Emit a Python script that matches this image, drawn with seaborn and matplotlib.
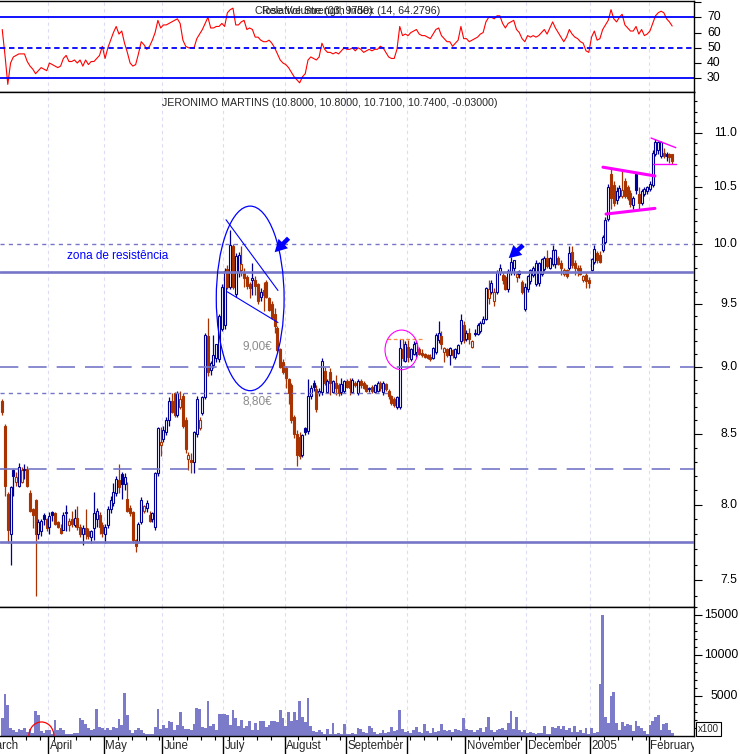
import numpy as np
import pandas as pd
import seaborn as sns
import matplotlib
matplotlib.use("Agg")
import matplotlib.pyplot as plt
from matplotlib.patches import Ellipse
from matplotlib.transforms import blended_transform_factory

sns.set_style("white")
plt.rcParams['font.family'] = ['Liberation Sans', 'DejaVu Sans']

# ---- dados (um valor por sessão, 9 Mar 2004 -> 11 Fev 2005) ----
opens = [8.74, 8.56, 8.07, 7.80, 8.24, 8.16, 8.13, 8.16, 8.24, 8.25,
         8.08, 7.97, 8.03, 7.80, 7.82, 7.93, 7.90, 7.85, 7.95, 7.94,
         7.88, 7.84, 7.83, 7.94, 7.86, 7.90, 7.86, 7.91, 7.85, 7.80,
         7.84, 7.82, 7.78, 7.84, 7.90, 7.93, 7.86, 7.80, 7.86, 7.97,
         8.01, 8.08, 8.17, 8.21, 8.14, 8.04, 7.98, 7.95, 7.76, 7.75,
         7.88, 7.96, 7.98, 7.93, 7.90, 7.85, 8.22, 8.42, 8.46, 8.51,
         8.60, 8.74, 8.80, 8.64, 8.70, 8.78, 8.60, 8.32, 8.31, 8.30,
         8.50, 8.54, 8.65, 8.77, 9.24, 8.98, 9.02, 9.07, 9.06, 9.30,
         9.33, 9.79, 9.64, 9.98, 9.58, 9.76, 9.78, 9.76, 9.72, 9.66,
         9.70, 9.70, 9.66, 9.56, 9.61, 9.68, 9.55, 9.50, 9.42, 9.31,
         9.14, 9.04, 8.99, 8.91, 8.86, 8.62, 8.50, 8.48, 8.35, 8.54,
         8.52, 8.78, 8.88, 8.83, 8.80, 8.81, 8.97, 8.81, 8.96, 8.81,
         8.88, 8.86, 8.81, 8.82, 8.89, 8.89, 8.81, 8.88, 8.80, 8.89,
         8.88, 8.86, 8.83, 8.85, 8.81, 8.82, 8.88, 8.81, 8.87, 8.82,
         8.78, 8.76, 8.70, 8.70, 9.14, 9.05, 9.16, 9.06, 9.10, 9.12,
         9.14, 9.11, 9.10, 9.09, 9.08, 9.07, 9.12, 9.21, 9.24, 9.12,
         9.14, 9.09, 9.13, 9.08, 9.11, 9.20, 9.33, 9.22, 9.27, 9.16,
         9.27, 9.26, 9.28, 9.35, 9.38, 9.55, 9.60, 9.52, 9.60, 9.76,
         9.74, 9.72, 9.62, 9.76, 9.80, 9.72, 9.75, 9.68, 9.46, 9.62,
         9.69, 9.74, 9.66, 9.67, 9.75, 9.79, 9.88, 9.80, 9.83, 9.83,
         9.88, 9.84, 9.75, 9.78, 9.80, 9.93, 9.84, 9.80, 9.80, 9.70,
         9.74, 9.70, 9.78, 9.85, 9.92, 9.91, 9.95, 10.02, 10.22, 10.62,
         10.52, 10.38, 10.42, 10.42, 10.55, 10.50, 10.45, 10.34, 10.62, 10.44,
         10.36, 10.44, 10.46, 10.48, 10.52, 10.80, 10.84, 10.78, 10.81, 10.80,
         10.80, 10.80]
highs = [8.76, 8.57, 8.09, 8.13, 8.25, 8.23, 8.29, 8.26, 8.28, 8.27,
         8.10, 7.98, 8.04, 7.90, 7.90, 7.94, 7.91, 7.95, 7.96, 7.95,
         7.89, 7.87, 7.95, 8.00, 7.91, 7.96, 7.97, 7.99, 7.87, 7.86,
         7.97, 7.84, 7.83, 8.09, 7.98, 7.95, 7.88, 7.87, 7.99, 8.06,
         8.15, 8.20, 8.28, 8.23, 8.22, 8.16, 8.00, 7.96, 7.77, 7.88,
         8.05, 8.00, 8.03, 7.96, 7.95, 8.23, 8.55, 8.55, 8.56, 8.62,
         8.77, 8.80, 8.81, 8.82, 8.82, 8.80, 8.62, 8.37, 8.36, 8.52,
         8.78, 8.62, 8.78, 9.27, 9.39, 9.05, 9.25, 9.18, 9.42, 9.66,
         9.80, 9.82, 10.12, 10.00, 9.92, 9.93, 9.98, 9.80, 9.74, 9.68,
         9.84, 9.73, 9.67, 9.63, 9.68, 9.70, 9.56, 9.52, 9.47, 9.32,
         9.15, 9.06, 9.01, 8.92, 8.88, 8.64, 8.53, 8.51, 8.50, 8.55,
         8.91, 8.86, 8.90, 8.86, 8.84, 9.07, 9.00, 8.91, 8.99, 8.90,
         8.94, 8.88, 8.92, 8.90, 8.91, 8.92, 8.92, 8.89, 8.91, 8.91,
         8.89, 8.87, 8.85, 8.86, 8.87, 8.89, 8.89, 8.89, 8.88, 8.83,
         8.79, 8.77, 8.78, 9.22, 9.22, 9.20, 9.21, 9.15, 9.20, 9.20,
         9.16, 9.14, 9.11, 9.10, 9.10, 9.16, 9.27, 9.36, 9.28, 9.16,
         9.15, 9.16, 9.14, 9.15, 9.18, 9.42, 9.36, 9.29, 9.31, 9.21,
         9.30, 9.35, 9.36, 9.40, 9.64, 9.70, 9.70, 9.63, 9.78, 9.83,
         9.76, 9.74, 9.79, 9.89, 9.86, 9.77, 9.78, 9.70, 9.67, 9.74,
         9.79, 9.81, 9.86, 9.85, 9.88, 9.90, 9.95, 9.89, 9.99, 9.96,
         9.90, 9.86, 9.80, 9.79, 9.98, 9.98, 9.86, 9.82, 9.82, 9.74,
         9.76, 9.72, 9.88, 9.99, 9.94, 9.94, 10.08, 10.23, 10.53, 10.68,
         10.55, 10.50, 10.52, 10.66, 10.58, 10.52, 10.47, 10.42, 10.64, 10.50,
         10.48, 10.50, 10.51, 10.55, 10.84, 10.94, 10.92, 10.92, 10.86, 10.82,
         10.81, 10.80]
lows = [8.64, 8.06, 7.74, 7.60, 8.06, 8.13, 8.12, 8.15, 8.18, 8.12,
        7.95, 7.84, 7.40, 7.77, 7.79, 7.86, 7.82, 7.80, 7.89, 7.86,
        7.84, 7.80, 7.83, 7.82, 7.82, 7.85, 7.85, 7.83, 7.78, 7.73,
        7.77, 7.77, 7.74, 7.76, 7.85, 7.80, 7.78, 7.74, 7.84, 7.94,
        7.99, 8.06, 8.08, 8.04, 8.10, 7.95, 7.92, 7.74, 7.68, 7.74,
        7.87, 7.94, 7.95, 7.88, 7.88, 7.83, 8.20, 8.34, 8.44, 8.49,
        8.56, 8.65, 8.62, 8.62, 8.68, 8.54, 8.36, 8.24, 8.22, 8.22,
        8.48, 8.53, 8.64, 8.76, 8.93, 8.94, 8.99, 9.04, 9.04, 9.28,
        9.30, 9.62, 9.62, 9.62, 9.56, 9.72, 9.73, 9.64, 9.62, 9.55,
        9.57, 9.57, 9.50, 9.52, 9.44, 9.55, 9.44, 9.38, 9.27, 9.12,
        8.99, 8.95, 8.84, 8.72, 8.58, 8.47, 8.27, 8.32, 8.33, 8.49,
        8.50, 8.76, 8.82, 8.66, 8.78, 8.79, 8.86, 8.80, 8.79, 8.80,
        8.79, 8.78, 8.79, 8.80, 8.84, 8.79, 8.80, 8.85, 8.79, 8.84,
        8.83, 8.81, 8.81, 8.80, 8.80, 8.81, 8.82, 8.79, 8.82, 8.76,
        8.71, 8.70, 8.68, 8.68, 9.05, 9.04, 9.04, 9.05, 9.09, 9.08,
        9.09, 9.08, 9.07, 9.06, 9.05, 9.06, 9.10, 9.19, 9.14, 9.04,
        9.08, 9.02, 9.07, 9.06, 9.10, 9.18, 9.19, 9.20, 9.18, 9.15,
        9.24, 9.25, 9.27, 9.34, 9.37, 9.50, 9.58, 9.48, 9.58, 9.74,
        9.66, 9.61, 9.60, 9.74, 9.74, 9.68, 9.71, 9.58, 9.44, 9.60,
        9.66, 9.72, 9.65, 9.65, 9.73, 9.77, 9.80, 9.79, 9.81, 9.80,
        9.82, 9.74, 9.73, 9.71, 9.78, 9.80, 9.74, 9.73, 9.74, 9.68,
        9.63, 9.63, 9.77, 9.83, 9.84, 9.84, 9.93, 10.00, 10.20, 10.30,
        10.33, 10.35, 10.40, 10.40, 10.40, 10.38, 10.32, 10.30, 10.44, 10.30,
        10.34, 10.42, 10.44, 10.46, 10.50, 10.78, 10.80, 10.76, 10.76, 10.74,
        10.72, 10.71]
closes = [8.66, 8.13, 7.83, 8.12, 8.20, 8.19, 8.26, 8.24, 8.25, 8.13,
          7.96, 7.93, 7.80, 7.88, 7.89, 7.90, 7.84, 7.92, 7.93, 7.87,
          7.85, 7.81, 7.93, 7.95, 7.89, 7.87, 7.91, 7.85, 7.80, 7.84,
          7.80, 7.79, 7.82, 7.94, 7.96, 7.85, 7.81, 7.85, 7.97, 8.03,
          8.09, 8.18, 8.12, 8.14, 8.19, 7.96, 7.94, 7.76, 7.72, 7.87,
          8.03, 7.99, 8.01, 7.89, 7.94, 8.22, 8.54, 8.44, 8.53, 8.60,
          8.74, 8.66, 8.64, 8.80, 8.76, 8.56, 8.39, 8.35, 8.30, 8.51,
          8.76, 8.60, 8.77, 9.25, 8.96, 9.03, 9.09, 9.18, 9.40, 9.64,
          9.77, 9.64, 9.99, 9.64, 9.90, 9.91, 9.83, 9.71, 9.65, 9.63,
          9.71, 9.65, 9.52, 9.60, 9.57, 9.56, 9.45, 9.39, 9.32, 9.13,
          9.00, 8.96, 8.92, 8.80, 8.60, 8.50, 8.35, 8.34, 8.49, 8.51,
          8.78, 8.84, 8.85, 8.68, 8.82, 9.05, 8.88, 8.89, 8.88, 8.89,
          8.84, 8.80, 8.87, 8.89, 8.85, 8.84, 8.90, 8.86, 8.89, 8.86,
          8.84, 8.82, 8.84, 8.82, 8.86, 8.88, 8.84, 8.88, 8.83, 8.78,
          8.73, 8.71, 8.77, 9.15, 9.07, 9.18, 9.08, 9.14, 9.18, 9.19,
          9.10, 9.09, 9.08, 9.07, 9.06, 9.15, 9.25, 9.27, 9.18, 9.15,
          9.09, 9.15, 9.09, 9.14, 9.17, 9.37, 9.21, 9.27, 9.22, 9.20,
          9.26, 9.33, 9.35, 9.38, 9.63, 9.62, 9.67, 9.60, 9.76, 9.80,
          9.70, 9.62, 9.77, 9.85, 9.86, 9.75, 9.77, 9.60, 9.64, 9.73,
          9.78, 9.80, 9.84, 9.84, 9.87, 9.88, 9.81, 9.88, 9.95, 9.95,
          9.83, 9.80, 9.78, 9.73, 9.92, 9.82, 9.80, 9.78, 9.75, 9.73,
          9.69, 9.67, 9.87, 9.96, 9.86, 9.85, 10.06, 10.21, 10.50, 10.40,
          10.36, 10.46, 10.49, 10.47, 10.42, 10.40, 10.35, 10.40, 10.47, 10.36,
          10.46, 10.48, 10.50, 10.53, 10.81, 10.91, 10.91, 10.91, 10.78, 10.78,
          10.77, 10.74]
volumes = [2200, 5250, 3900, 950, 750, 550, 850, 750, 950, 550,
           850, 400, 3100, 2600, 650, 350, 750, 700, 300, 2000,
           750, 1000, 700, 250, 300, 300, 350, 350, 2250, 2000,
           1550, 950, 750, 900, 3300, 1150, 950, 750, 950, 700,
           1150, 1050, 2100, 1400, 5300, 2600, 700, 350, 750, 1000,
           800, 350, 250, 250, 200, 1100, 3350, 900, 1350, 1000,
           1800, 1700, 750, 1350, 3000, 1250, 900, 900, 700, 1500,
           3500, 3300, 1100, 950, 4300, 1200, 1500, 800, 2700, 2750,
           2700, 2600, 1400, 3200, 2200, 1300, 2000, 1000, 1300, 1900,
           700, 1600, 800, 1800, 1900, 1100, 1400, 1800, 1900, 1700,
           3200, 2200, 1200, 3000, 1900, 3000, 2000, 4400, 2300, 1700,
           4750, 1200, 600, 550, 700, 550, 250, 900, 300, 1600,
           300, 350, 250, 1500, 200, 300, 400, 250, 950, 850,
           500, 350, 1200, 1000, 500, 300, 350, 800, 400, 500,
           1100, 600, 700, 3200, 900, 500, 650, 400, 800, 1100,
           500, 350, 1500, 600, 400, 1000, 500, 600, 1500, 800,
           600, 800, 500, 900, 700, 600, 2200, 900, 700, 700,
           550, 800, 1000, 500, 1100, 2300, 800, 500, 700, 900,
           1000, 700, 1600, 3100, 900, 2300, 700, 500, 700, 400,
           450, 350, 250, 400, 350, 1300, 200, 300, 1100, 1000,
           1300, 900, 1300, 700, 1000, 500, 1200, 500, 800, 400,
           1000, 300, 1000, 400, 500, 6400, 15000, 2300, 1600, 5000,
           5500, 1600, 800, 1700, 1200, 1500, 1400, 600, 1800, 1200,
           1000, 600, 300, 1400, 1900, 2300, 2600, 800, 1500, 1600,
           700, 400]
rsi = [62, 45, 26, 40, 44, 45, 46, 46, 46, 41,
       38, 36, 33, 35, 37, 36, 35, 40, 39, 38,
       37, 38, 43, 45, 41, 41, 42, 40, 42, 38,
       42, 39, 41, 41, 43, 45, 51, 43, 50, 55,
       60, 64, 59, 61, 53, 47, 40, 38, 39, 46,
       54, 52, 49, 51, 55, 60, 68, 63, 65, 65,
       66, 67, 68, 69, 66, 55, 51, 50, 50, 50,
       56, 59, 62, 66, 70, 63, 63, 64, 64, 66,
       64, 73, 75, 76, 65, 65, 67, 68, 62, 63,
       62, 57, 57, 55, 54, 54, 55, 53, 50, 46,
       42, 40, 39, 37, 34, 31, 29, 27, 31, 33,
       42, 44, 43, 42, 44, 53, 49, 47, 47, 46,
       47, 46, 48, 50, 49, 49, 50, 48, 50, 49,
       47, 48, 49, 48, 49, 49, 51, 50, 47, 44,
       43, 43, 49, 64, 58, 59, 58, 60, 61, 62,
       59, 58, 58, 57, 56, 59, 62, 63, 58, 56,
       54, 54, 51, 53, 55, 64, 56, 56, 54, 55,
       56, 57, 59, 60, 67, 70, 70, 69, 71, 71,
       66, 63, 66, 67, 68, 62, 60, 56, 54, 58,
       57, 58, 57, 58, 60, 62, 59, 63, 67, 63,
       60, 57, 54, 57, 62, 59, 57, 56, 54, 53,
       48, 47, 57, 61, 55, 56, 62, 65, 68, 75,
       69, 67, 70, 72, 65, 63, 61, 61, 64, 59,
       62, 58, 59, 61, 66, 71, 73, 74, 73, 69,
       67, 64.28]

price_ticks = [7.5, 8.0, 8.5, 9.0, 9.5, 10.0, 10.5, 11.0]
rsi_ticks = [30, 40, 50, 60, 70]
vol_ticks = [5000, 10000, 15000]
month_names = ['March', 'April', 'May', 'June', 'July', 'August', 'September',
               '', 'November', 'December', '2005', 'February']

# ---- datas / posições ----
dates = pd.bdate_range('2004-03-09', '2005-02-11')
dates = dates.drop(pd.to_datetime(['2004-04-09', '2004-04-12']))
n = len(closes)
dates = dates[:n]
df = pd.DataFrame({'x': np.arange(n), 'open': opens, 'high': highs,
                   'low': lows, 'close': closes, 'volume': volumes, 'rsi': rsi})
prev = df['close'].shift(1).fillna(df['open'])

BLUE, RED = '#000096', '#a83200'
LINE = '#7676c8'
df['col'] = np.where(df['close'] >= prev, BLUE, RED)
df['face'] = np.where(df['close'] < df['open'], df['col'], 'white')

month_pos = [-float(np.busday_count('2004-03-01', '2004-03-09'))]
for i in range(1, n):
    if dates[i].month != dates[i - 1].month:
        month_pos.append(float(i))
month_pos = np.array(month_pos) - 0.45
mondays = df['x'][dates.weekday == 0] - 0.45

W, H = 740, 754
def box(x0, y0, x1, y1):
    return [x0 / W, 1 - y1 / H, (x1 - x0) / W, (y1 - y0) / H]

fig = plt.figure(figsize=(W / 100, H / 100), dpi=100)
ax_r = fig.add_axes(box(0, 1, 694, 92))
ax_p = fig.add_axes(box(0, 92, 694, 607))
ax_v = fig.add_axes(box(0, 607, 694, 736))
ax_d = fig.add_axes(box(0, 736, 694, 754))

XL = (-0.8, 248.85)
for ax in (ax_r, ax_p, ax_v, ax_d):
    ax.set_xlim(*XL)
    ax.set_facecolor('white')
for ax in (ax_r, ax_p, ax_v):
    ax.spines['left'].set_visible(False)
    for s in ('top', 'bottom', 'right'):
        ax.spines[s].set_color('black')
        ax.spines[s].set_linewidth(1.0)
    ax.set_xticks([])
    ax.yaxis.tick_right()
    ax.tick_params(axis='y', which='both', right=True, left=False, direction='out',
                   color='black', width=0.8, labelright=False)
    for m in month_pos[1:]:
        ax.axvline(m, color='#dcdcf4', lw=0.8, ls=(0, (3, 3)), zorder=0)

lab_kw = dict(fontsize=8.8, color='black', va='center')

# ---- RSI ----
sns.lineplot(x=df['x'], y=df['rsi'], ax=ax_r, color='red', lw=0.8, legend=False)
ax_r.set_ylim(21, 80.7)
ax_r.axhline(70, color='#0000ff', lw=1.3)
ax_r.axhline(30, color='#0000ff', lw=1.3)
ax_r.axhline(50, color='#0000ff', lw=1.3, ls=(0, (3, 2)))
ax_r.set_yticks(rsi_ticks + [80])
ax_r.tick_params(axis='y', length=5)
ax_r.set_xlabel('')
ax_r.set_ylabel('')
tr = blended_transform_factory(ax_r.transAxes, ax_r.transData)
for t in rsi_ticks:
    ax_r.text(707 / 694, t, str(t), transform=tr, ha='left', clip_on=False, **lab_kw)
# no original os dois títulos do painel aparecem sobrepostos
ax_r.text(0.368, 0.89, 'Close Volume (03, 9750)', transform=ax_r.transAxes,
          fontsize=7.7, ha='left', va='center')
ax_r.text(0.378, 0.89, 'Relative Strength Index (14, 64.2796)', transform=ax_r.transAxes,
          fontsize=7.7, ha='left', va='center')

# ---- preço ----
ax_p.set_yscale('log')
ax_p.set_ylim(7.329, 11.39)
ax_p.vlines(df['x'], df['low'], df['high'], colors=df['col'], lw=0.9, zorder=2)
body = np.maximum(np.abs(df['close'] - df['open']), 0.004)
ax_p.bar(df['x'], body, bottom=np.minimum(df['open'], df['close']), width=0.72,
         color=df['face'], edgecolor=df['col'], linewidth=0.8, zorder=2.5)
ax_p.yaxis.set_major_locator(matplotlib.ticker.FixedLocator(price_ticks))
minor = [v / 10 for v in range(74, 114) if v % 5 != 0]
ax_p.yaxis.set_minor_locator(matplotlib.ticker.FixedLocator(minor))
ax_p.yaxis.set_major_formatter(matplotlib.ticker.NullFormatter())
ax_p.yaxis.set_minor_formatter(matplotlib.ticker.NullFormatter())
ax_p.tick_params(axis='y', which='major', length=6)
ax_p.tick_params(axis='y', which='minor', length=2.4)
tp = blended_transform_factory(ax_p.transAxes, ax_p.transData)
for t in price_ticks:
    ax_p.text(737 / 694, t, f'{t:.1f}', transform=tp, ha='right', clip_on=False, **lab_kw)

for lvl in (9.76, 7.75):
    ax_p.axhline(lvl, color=LINE, lw=1.9, zorder=3)
for lvl in (9.0, 8.25):
    ax_p.axhline(lvl, color=LINE, lw=1.2, ls=(0, (11, 6)), zorder=3)
ax_p.axhline(10.0, color=LINE, lw=1.0, ls=(0, (3, 3)), zorder=3)
ax_p.hlines(8.80, XL[0], 139.5, color=LINE, lw=1.0, ls=(0, (3, 3)), zorder=3)
ax_p.hlines(9.22, 138.5, 151.4, color='#ff8c3c', lw=0.9, ls=(0, (3, 2)), zorder=3)

ax_p.text(0.4748, 0.979, 'JERONIMO MARTINS (10.8000, 10.8000, 10.7100, 10.7400, -0.03000)',
          transform=ax_p.transAxes, fontsize=7.7, ha='center', va='center')
ax_p.text(23.3, 9.90, 'zona de resistência', color='#0000ff', fontsize=8.5,
          ha='left', va='center')
ax_p.text(91.7, 9.16, '9,00€', color='#8c8c8c', fontsize=8.6, ha='center', va='center')
ax_p.text(91.7, 8.74, '8,80€', color='#8c8c8c', fontsize=8.6, ha='center', va='center')

def ellipse(ax, x0, x1, y0, y1, **kw):
    a0 = ax.transAxes.inverted().transform(ax.transData.transform((x0, y0)))
    a1 = ax.transAxes.inverted().transform(ax.transData.transform((x1, y1)))
    ax.add_patch(Ellipse(((a0[0] + a1[0]) / 2, (a0[1] + a1[1]) / 2),
                         a1[0] - a0[0], a1[1] - a0[1], transform=ax.transAxes,
                         fill=False, zorder=4, **kw))

ellipse(ax_p, 77.0, 101.4, 8.82, 10.33, color='#0000ff', lw=0.9)
ellipse(ax_p, 137.7, 149.6, 8.98, 9.29, color='#ff00ff', lw=0.8)
ax_p.plot([80.5, 99.2], [10.21, 9.61], color='#0000ff', lw=0.8, zorder=4)
ax_p.plot([80.9, 99.2], [9.60, 9.35], color='#0000ff', lw=0.8, zorder=4)
ax_p.plot([216.1, 234.8], [10.68, 10.60], color='#ff00ff', lw=2.2, zorder=4)
ax_p.plot([217.2, 234.8], [10.26, 10.31], color='#ff00ff', lw=2.2, zorder=4)
ax_p.plot([233.4, 242.3], [10.95, 10.86], color='#ff00ff', lw=1.0, zorder=4)
ax_p.plot([234.2, 242.3], [10.71, 10.71], color='#ff00ff', lw=1.0, zorder=4)
arrow = dict(arrowstyle='simple,head_length=1.1,head_width=1.2,tail_width=0.4',
             color='#0000ff', lw=0, shrinkA=0, shrinkB=0, mutation_scale=8)
ax_p.annotate('', xy=(98.0, 9.93), xytext=(103.0, 10.05), arrowprops=arrow, zorder=5)
ax_p.annotate('', xy=(182.2, 9.88), xytext=(187.4, 9.99), arrowprops=arrow, zorder=5)

# ---- volume ----
ax_v.bar(df['x'], df['volume'], width=1.0, color='#7b7bc9', linewidth=0, zorder=2)
ax_v.set_ylim(0, 16000)
ax_v.yaxis.set_major_locator(matplotlib.ticker.FixedLocator(vol_ticks))
ax_v.yaxis.set_minor_locator(matplotlib.ticker.FixedLocator(
    [v for v in range(1000, 16001, 1000) if v % 5000 != 0]))
ax_v.yaxis.set_major_formatter(matplotlib.ticker.NullFormatter())
ax_v.tick_params(axis='y', which='major', length=6)
ax_v.tick_params(axis='y', which='minor', length=2.4)
ax_v.set_xticks(mondays, minor=True)
ax_v.tick_params(axis='x', which='minor', bottom=True, direction='out', length=3,
                 width=0.8, color='black')
tv = blended_transform_factory(ax_v.transAxes, ax_v.transData)
for t in vol_ticks:
    ax_v.text(738 / 694, t, str(t), transform=tv, ha='right', clip_on=False, **lab_kw)
ax_v.add_patch(Ellipse((14.1, 0), 9.0, 3480, fill=False, color='red', lw=0.9, zorder=4))
fig.text(698 / W, 1 - 729 / H, 'x100', fontsize=7, va='center', ha='left',
         bbox=dict(boxstyle='square,pad=0.2', fc='white', ec='black', lw=0.8))

# ---- faixa das datas ----
ax_d.set_ylim(0, 1)
ax_d.axis('off')
ax_d.vlines(month_pos, 0, 1, color='black', lw=1.0)
for m, name in zip(month_pos, month_names):
    ax_d.text(m + 0.5, 0.45, name, fontsize=8.3, ha='left', va='center', clip_on=True)

fig.savefig('out.png', dpi=100)
